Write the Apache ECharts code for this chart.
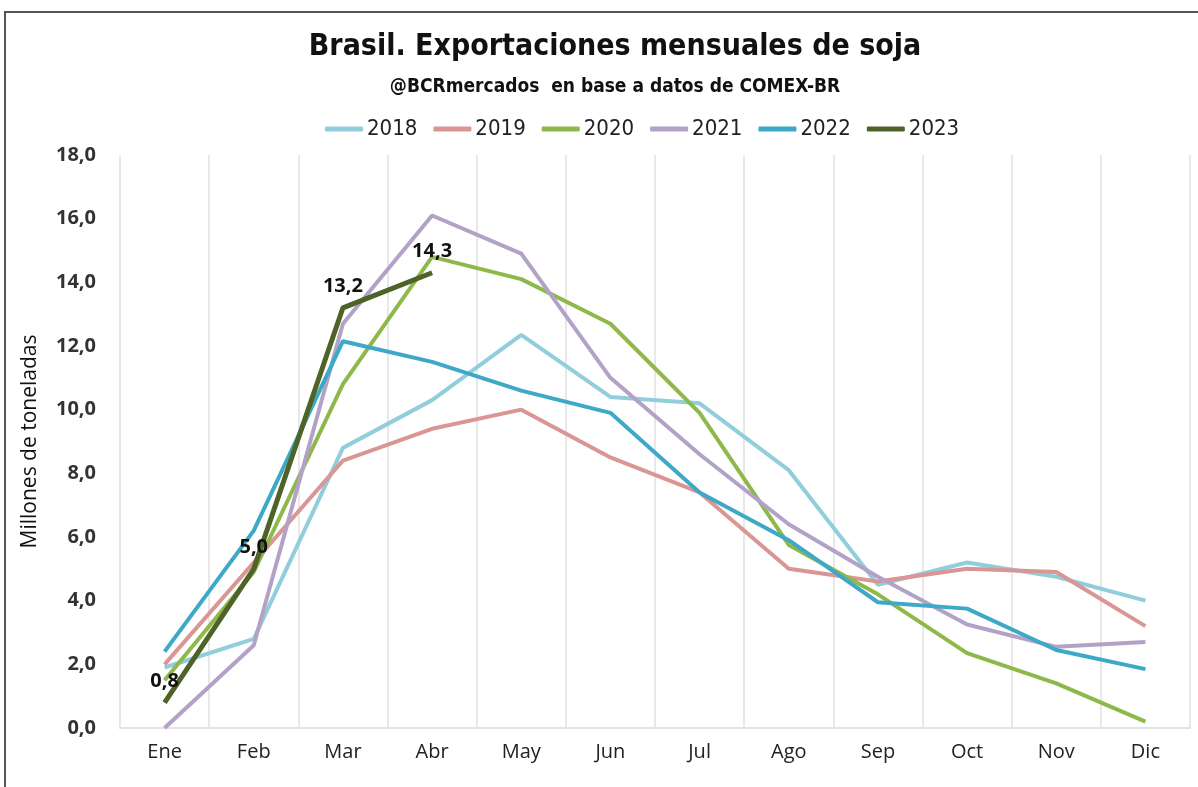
<!DOCTYPE html>
<html>
<head>
<meta charset="utf-8">
<script src="https://cdn.jsdelivr.net/npm/echarts@6/dist/echarts.min.js"></script>
<style>
  html, body { margin: 0; padding: 0; background: #fff; }
  #chart { width: 1198px; height: 787px; }
</style>
</head>
<body>
<div id="chart"></div>
<script>
const months = ['Ene', 'Feb', 'Mar', 'Abr', 'May', 'Jun', 'Jul', 'Ago', 'Sep', 'Oct', 'Nov', 'Dic'];
const years = ['2018', '2019', '2020', '2021', '2022', '2023'];
const colors = ['#92CDDC', '#D99694', '#8EB94A', '#B3A2C7', '#3EA9C6', '#4F6228'];

const s2018 = [1.9, 2.8, 8.8, 10.3, 12.35, 10.4, 10.2, 8.1, 4.5, 5.2, 4.75, 4.0];
const s2019 = [2.0, 5.2, 8.4, 9.4, 10.0, 8.5, 7.4, 5.0, 4.6, 5.0, 4.9, 3.2];
const s2020 = [1.5, 4.9, 10.8, 14.8, 14.1, 12.7, 9.9, 5.75, 4.2, 2.35, 1.4, 0.2];
const s2021 = [0.0, 2.6, 12.7, 16.1, 14.9, 11.0, 8.6, 6.4, 4.75, 3.25, 2.55, 2.7];
const s2022 = [2.4, 6.2, 12.15, 11.5, 10.6, 9.9, 7.4, 5.9, 3.95, 3.75, 2.45, 1.85];
const s2023 = [0.8, 5.0, 13.2, 14.3];

const yTicks = { min: 0, max: 18, interval: 2 };

const narrow = 'Liberation Sans Narrow, DejaVu Sans Condensed, sans-serif';
const fmt = v => v.toFixed(1).replace('.', ',');
const allSeries = [s2018, s2019, s2020, s2021, s2022, s2023];

const chart = echarts.init(document.getElementById('chart'));

const series = allSeries.map((data, i) => {
  const last = i === 5;
  return {
    name: years[i],
    type: 'line',
    data: data,
    symbol: last ? 'circle' : 'none',
    symbolSize: last ? 0.1 : 0,
    showSymbol: last,
    color: colors[i],
    lineStyle: { width: last ? 5 : 4, color: colors[i] },
    z: 2 + i,
    label: last ? {
      show: true,
      position: 'top',
      distance: 11,
      formatter: p => fmt(p.value),
      fontFamily: 'Open Sans',
      fontWeight: 'bold',
      fontSize: 20,
      color: '#111'
    } : { show: false }
  };
});

chart.setOption({
  animation: false,
  backgroundColor: '#fff',
  graphic: [{
    type: 'rect',
    shape: { x: 5, y: 12, width: 1200, height: 800 },
    style: { fill: 'none', stroke: '#555', lineWidth: 2 },
    silent: true
  }],
  title: {
    text: 'Brasil. Exportaciones mensuales de soja',
    subtext: '@BCRmercados  en base a datos de COMEX-BR',
    left: 610,
    textAlign: 'center',
    top: 27,
    itemGap: 16,
    textStyle: {
      fontFamily: narrow,
      fontWeight: 'bold',
      fontSize: 30,
      color: '#111'
    },
    subtextStyle: {
      fontFamily: narrow,
      fontWeight: 'bold',
      fontSize: 19,
      color: '#111'
    }
  },
  legend: {
    data: years,
    top: 113,
    left: 320,
    itemWidth: 38,
    itemHeight: 5,
    itemGap: 16,
    icon: 'roundRect',
    textStyle: {
      fontFamily: narrow,
      fontSize: 22,
      color: '#222',
      padding: [0, 0, 0, -1]
    }
  },
  grid: { left: 120, right: 8, top: 155, bottom: 59 },
  xAxis: {
    type: 'category',
    data: months,
    boundaryGap: true,
    axisLine: { lineStyle: { color: '#e3e3e3', width: 2 } },
    axisTick: { show: false },
    splitLine: { show: true, lineStyle: { color: '#e8e8e8', width: 2 } },
    axisLabel: {
      fontFamily: 'Open Sans',
      fontWeight: 500,
      fontSize: 20,
      color: '#222',
      margin: 14
    }
  },
  yAxis: {
    type: 'value',
    min: yTicks.min,
    max: yTicks.max,
    interval: yTicks.interval,
    name: 'Millones de toneladas',
    nameLocation: 'middle',
    nameGap: 79,
    nameTextStyle: { fontFamily: 'Open Sans', fontSize: 21, color: '#111' },
    axisLine: { show: false },
    axisTick: { show: false },
    splitLine: { show: false },
    axisLabel: {
      formatter: v => fmt(v),
      fontFamily: 'Open Sans',
      fontWeight: 'bold',
      fontSize: 20,
      color: '#333',
      margin: 24
    }
  },
  series: series
});
</script>
</body>
</html>
